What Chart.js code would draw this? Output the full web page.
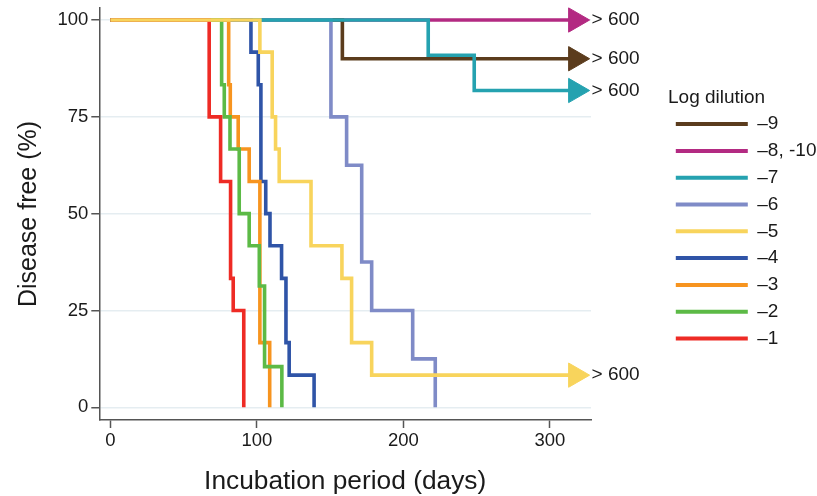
<!DOCTYPE html>
<html><head><meta charset="utf-8">
<script src="https://cdn.jsdelivr.net/npm/chart.js@4"></script>
<style>html,body{margin:0;padding:0;background:#fff}#wrap{width:817px;height:496px}</style>
</head><body><div id="wrap"><canvas id="c" width="817" height="496"></canvas></div>
<script>
// ---- data ----
const seriesLabels = ['\u20139', '\u20138, -10', '\u20137', '\u20136', '\u20135', '\u20134', '\u20133', '\u20132', '\u20131'];
const seriesColors = ['#5b3c1d', '#b32a82', '#25a2b0', '#7f8bc7', '#f8d45c', '#2f54a7', '#f7941f', '#5cba46', '#ee2b25'];

const days_9 = [0, 158.3, 317.5];
const free_9 = [100, 90, 90];
const days_8 = [0, 317.5];
const free_8 = [100, 100];
const days_7 = [0, 216.9, 248.3, 317.5];
const free_7 = [100, 90.9, 81.8, 81.8];
const days_6 = [0, 150.5, 161.2, 171.5, 178.3, 206.3, 221.7];
const free_6 = [100, 75, 62.5, 37.5, 25, 12.5, 0];
const days_5 = [0, 102, 110.4, 112.7, 115.2, 136.9, 158, 164.6, 178.3, 317.5];
const free_5 = [100, 91.7, 75, 66.7, 58.3, 41.7, 33.3, 16.7, 8.3, 8.3];
const days_4 = [0, 95.9, 100.9, 102.7, 106, 108.9, 116.8, 119.8, 122, 139];
const free_4 = [100, 91.7, 83.3, 58.3, 50, 41.7, 33.3, 16.7, 8.3, 0];
const days_3 = [0, 80.7, 81.8, 87.2, 94.7, 102, 108.7];
const free_3 = [100, 83.3, 75, 66.7, 58.3, 16.7, 0];
const days_2 = [0, 75.9, 77.7, 81.6, 87.9, 94.7, 101.6, 105.2, 117];
const free_2 = [100, 83.3, 75, 66.7, 50, 41.7, 31.3, 10.5, 0];
const days_1 = [0, 67.4, 75.2, 82, 83.8, 91];
const free_1 = [100, 75, 58.3, 33.3, 25, 0];

const dayArrays = [days_9, days_8, days_7, days_6, days_5, days_4, days_3, days_2, days_1];
const freeArrays = [free_9, free_8, free_7, free_6, free_5, free_4, free_3, free_2, free_1];
const hasArrow = [true, true, true, false, true, false, false, false, false];
const drawOrder = [7, 8, 5, 6, 0, 4, 3, 2, 1];
const arrowLabel = '> 600';
const xTicks = [0, 100, 200, 300];
const yTicks = [0, 25, 50, 75, 100];
const FONT = '"Liberation Sans", Arial, Helvetica, sans-serif';
const TXT = '#1a1a1a';
const AXIS = '#555555';

const endLabels = {
  id: 'endLabels',
  afterDatasetsDraw(chart) {
    const ctx = chart.ctx;
    ctx.save();
    ctx.font = '19px ' + FONT;
    ctx.fillStyle = TXT;
    ctx.textBaseline = 'middle';
    ctx.textAlign = 'left';
    chart.data.datasets.forEach((ds, i) => {
      if (!hasArrow[i]) return;
      const meta = chart.getDatasetMeta(i);
      const pt = meta.data[meta.data.length - 1];
      ctx.fillText(arrowLabel, pt.x + 16, pt.y);
    });
    ctx.restore();
  }
};

new Chart(document.getElementById('c'), {
  type: 'line',
  data: {
    datasets: seriesLabels.map((lab, i) => ({
      label: lab,
      data: dayArrays[i].map((d, j) => ({ x: d, y: freeArrays[i][j] })),
      borderColor: seriesColors[i],
      backgroundColor: seriesColors[i],
      borderWidth: 3.6,
      stepped: 'before',
      fill: false,
      order: drawOrder[i],
      clip: false,
      pointStyle: 'triangle',
      rotation: 90,
      pointRadius: (c) => (hasArrow[i] && c.dataIndex === dayArrays[i].length - 1) ? 14 : 0,
      pointHoverRadius: (c) => (hasArrow[i] && c.dataIndex === dayArrays[i].length - 1) ? 14 : 0,
      pointBackgroundColor: seriesColors[i],
      pointBorderColor: seriesColors[i],
      pointBorderWidth: 1
    }))
  },
  options: {
    responsive: false,
    animation: false,
    events: [],
    layout: { autoPadding: false, padding: { top: 8, right: 0, bottom: 0, left: 0 } },
    scales: {
      x: {
        type: 'linear', position: 'bottom', min: -7.6, max: 328,
        afterBuildTicks: (s) => { s.ticks = xTicks.map(v => ({ value: v })); },
        afterFit: (s) => { s.height = 76; s.paddingLeft = 0; s.paddingRight = 0; },
        grid: { display: true, drawOnChartArea: false, tickLength: 8, tickColor: AXIS, tickWidth: 1.5 },
        border: { display: true, color: AXIS, width: 1.5 },
        ticks: { color: TXT, font: { size: 18.5, family: FONT }, padding: 2, maxRotation: 0, autoSkip: false },
        title: { display: true, text: 'Incubation period (days)', color: TXT, font: { size: 26.3, family: FONT, lineHeight: 1 }, padding: { top: 0, bottom: 1 } }
      },
      y: {
        type: 'linear', position: 'left', min: -3.28, max: 103.1,
        afterBuildTicks: (s) => { s.ticks = yTicks.map(v => ({ value: v })); },
        afterFit: (s) => { s.width = 99.3; s.paddingTop = 0; s.paddingBottom = 0; },
        grid: { color: '#e5edf1', lineWidth: 1.5, tickLength: 8, tickColor: AXIS, tickWidth: 1.5 },
        border: { display: true, color: AXIS, width: 1.5 },
        ticks: { color: TXT, font: { size: 18.5, family: FONT }, padding: 3 },
        title: { display: true, text: 'Disease free (%)', color: TXT, font: { size: 25, family: FONT, lineHeight: 1 }, padding: { top: 17, bottom: 0 } }
      },
      gap: {
        type: 'linear', position: 'right', display: true,
        grid: { display: false, drawTicks: false },
        border: { display: false },
        ticks: { display: false },
        afterFit: (s) => { s.width = 77; s.paddingTop = 0; s.paddingBottom = 0; }
      }
    },
    plugins: {
      tooltip: { enabled: false },
      legend: {
        position: 'right', align: 'start', maxWidth: 149,
        title: { display: true, text: 'Log dilution', position: 'start', color: TXT, font: { size: 19, family: FONT, lineHeight: 1 }, padding: { top: 79.8, bottom: 0 } },
        labels: {
          boxWidth: 72, boxHeight: 4, padding: 7.8, color: TXT, font: { size: 19, family: FONT },
          sort: (a, b) => a.datasetIndex - b.datasetIndex,
          generateLabels: (chart) => Chart.defaults.plugins.legend.labels.generateLabels(chart)
            .map(l => Object.assign(l, { lineWidth: 0, fillStyle: seriesColors[l.datasetIndex] }))
        }
      }
    }
  },
  plugins: [endLabels]
});
</script>
</body></html>
